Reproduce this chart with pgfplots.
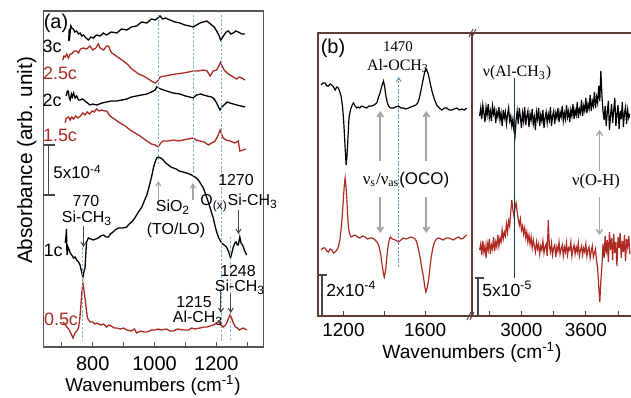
\documentclass[border=0pt]{standalone}
\usepackage{pgfplots}
\pgfplotsset{compat=1.18}
\usetikzlibrary{arrows.meta}
\usepackage{fontspec}
\setmainfont{Liberation Sans}
\newfontfamily\serif{Liberation Serif}
\definecolor{myred}{RGB}{172,42,34}
\definecolor{dashblue}{RGB}{130,175,210}
\definecolor{arrgray}{RGB}{165,165,165}
\definecolor{darkarr}{RGB}{70,70,70}
\definecolor{framea}{RGB}{85,85,85}
\definecolor{frameb}{RGB}{95,60,55}
\definecolor{tealline}{RGB}{25,55,65}
\newcommand{\fs}[1]{\fontsize{#1}{#1}\selectfont}
\begin{document}
\begin{tikzpicture}
\useasboundingbox (0,0) rectangle (315.5bp,199bp);
%================ panel (a)
\begin{axis}[
  at={(21.65bp,25.5bp)}, anchor=south west,
  scale only axis, width=110bp, height=168bp,
  xmin=640, xmax=1352, ymin=0, ymax=336,
  axis line style={draw=framea, line width=0.6bp},
  xtick={800,1000,1200}, minor xtick={700,900,1100,1300},
  xtick pos=left, ytick=\empty,
  tick align=inside, major tick length=2.5bp, minor tick length=2.5bp,
  every tick/.style={framea, line width=0.5bp},
  xticklabel style={font=\fs{10}, anchor=base, yshift=-11.5bp},
  /pgf/number format/assume math mode=true,
  /pgf/number format/1000 sep={},
  clip=false,
]
% 3c
\addplot[black, line width=0.65bp] coordinates {
(722,306) (724,318) (726,312) (729,321) (732,319) (737,318) (742,315) (748,316) (754,313) (759,314) (765,311) (770,312) (778,309) (786,307) (794,310) (802,309) (812,312) (824,311) (834,314) (845,312) (860,315) (878,314) (893,318) (910,317) (925,320) (942,321) (958,325) (975,324) (990,328) (1002,327) (1010,329) (1018,331) (1026,328) (1035,329) (1050,327) (1066,325) (1082,324) (1098,322) (1114,321) (1125,320) (1136,322) (1147,324) (1158,325) (1169,326) (1177,324) (1185,322) (1193,320) (1201,316) (1208,312) (1214,307) (1219,309) (1225,312) (1232,315) (1239,316) (1247,313) (1255,314) (1263,316) (1271,315) (1282,313) (1293,313)};
% 2.5c
\addplot[myred, line width=0.65bp] coordinates {
(703,287) (707,291) (711,290) (716,293) (721,289) (727,293) (732,293) (740,296) (748,296) (754,294) (760,298) (770,299) (780,298) (791,301) (800,297) (810,299) (818,303) (824,299) (835,297) (845,301) (851,301) (856,297) (862,294) (872,292) (880,290) (890,288) (899,286) (907,284) (915,282) (923,279) (931,277) (940,275) (948,273) (956,272) (964,271) (975,269) (985,267) (995,265) (1002,264) (1010,266) (1018,270) (1034,271) (1050,272) (1070,273) (1093,274) (1110,275) (1125,276) (1140,276) (1158,277) (1170,276) (1180,271) (1190,276) (1201,277) (1208,281) (1214,285) (1219,281) (1225,277) (1235,274) (1244,272) (1255,270) (1266,268) (1274,270) (1282,269) (1293,267)};
% 2c
\addplot[black, line width=0.65bp] coordinates {
(714,251) (718,256) (721,256) (724,249) (727,247) (731,253) (734,250) (738,254) (743,249) (748,251) (754,247) (759,247) (767,248) (775,246) (783,244) (791,242) (800,243) (813,242) (830,244) (845,245) (860,246) (878,246) (895,247) (910,248) (925,250) (942,251) (958,252) (975,253) (990,255) (1002,257) (1007,260) (1020,258) (1039,256) (1060,254) (1082,253) (1100,251) (1114,250) (1125,249) (1136,252) (1150,253) (1158,252) (1170,251) (1185,250) (1193,248) (1201,244) (1207,240) (1212,237) (1218,240) (1225,242) (1235,245) (1244,244) (1255,243) (1266,242) (1280,241) (1293,240)};
% 1.5c
\addplot[myred, line width=0.65bp] coordinates {
(711,224) (714,229) (716,229) (722,230) (727,227) (732,230) (738,228) (745,231) (752,229) (760,231) (768,234) (775,232) (782,235) (790,233) (798,236) (805,235) (812,238) (820,236) (829,237) (838,236) (845,236) (856,231) (870,228) (888,224) (905,221) (921,217) (937,214) (953,211) (975,206) (990,203) (1002,202) (1012,200) (1020,204) (1028,206) (1045,206) (1061,207) (1077,206) (1093,207) (1110,208) (1125,209) (1135,207) (1147,206) (1160,205) (1174,202) (1185,204) (1196,206) (1205,211) (1212,217) (1217,213) (1222,209) (1232,207) (1244,206) (1260,204) (1271,206) (1274,200) (1276,196) (1287,197) (1295,198)};
% 1c
\addplot[black, line width=0.65bp] coordinates {
(711,104) (714,113) (715,118) (716,100) (717,92) (720,100) (724,97) (727,94) (732,92) (738,89) (743,90) (748,87) (754,85) (759,82) (764,75) (768,70) (772,76) (775,79) (778,95) (780,105) (786,109) (794,108) (802,107) (810,108) (818,109) (826,111) (835,112) (843,110) (851,110) (857,113) (862,114) (872,117) (883,119) (897,119) (910,120) (918,123) (926,125) (934,128) (942,132) (950,136) (959,140) (967,146) (975,152) (983,161) (991,171) (997,180) (1002,185) (1007,189) (1012,190) (1020,189) (1028,187) (1036,184) (1045,182) (1053,180) (1061,179) (1070,178) (1080,176) (1092,175) (1104,174) (1112,173) (1120,172) (1131,170) (1142,167) (1150,163) (1158,159) (1166,152) (1174,145) (1182,137) (1190,129) (1196,121) (1201,115) (1208,109) (1217,104) (1225,102) (1233,100) (1240,95) (1246,89) (1250,94) (1255,100) (1260,104) (1264,105) (1268,102) (1271,102) (1276,110) (1280,104) (1285,102) (1292,96) (1298,92)};
% 0.5c
\addplot[myred, line width=0.65bp] coordinates {
(703,25) (710,23) (716,20) (722,18) (727,15) (732,12) (736,9) (740,12) (743,14) (748,16) (754,19) (758,28) (761,39) (765,55) (768,64) (771,58) (775,49) (779,38) (783,29) (787,27) (791,25) (800,25) (807,23) (813,24) (825,22) (835,23) (845,20) (852,22) (860,21) (870,19) (878,19) (890,18) (900,19) (910,17) (925,16) (935,18) (942,14) (955,16) (965,15) (975,15) (990,17) (1002,17) (1012,18) (1020,17) (1039,18) (1050,16) (1060,16) (1075,18) (1093,17) (1110,17) (1120,19) (1130,18) (1147,19) (1160,20) (1170,20) (1180,21) (1190,22) (1200,24) (1206,25) (1212,23) (1222,20) (1230,22) (1235,25) (1240,29) (1244,32) (1248,30) (1255,24) (1262,20) (1268,19) (1275,17) (1280,18) (1287,19) (1298,17)};
\end{axis}
%================ panel (b) left
\begin{axis}[
  at={(159bp,41bp)}, anchor=south west,
  scale only axis, width=77bp, height=141.5bp,
  xmin=1075, xmax=1830, ymin=0, ymax=283,
  axis line style={draw=frameb, line width=0.6bp},
  xtick={1200,1600}, minor xtick={1400},
  xtick pos=left, ytick=\empty,
  tick align=inside, major tick length=2.5bp, minor tick length=2.5bp,
  every tick/.style={frameb, line width=0.5bp},
  xticklabel style={font=\fs{9.5}, anchor=base, yshift=-10.3bp},
  /pgf/number format/assume math mode=true,
  /pgf/number format/1000 sep={},
  clip=false,
]
\addplot[black, line width=0.6bp] coordinates {
(1090,231) (1100,233) (1110,233) (1118,230) (1126,230) (1135,232) (1143,231) (1151,229) (1159,226) (1167,229) (1175,228) (1182,224) (1188,220) (1195,210) (1200,198) (1205,180) (1208,168) (1213,151) (1217,160) (1221,175) (1227,198) (1232,204) (1237,208) (1243,211) (1249,213) (1257,210) (1265,208) (1272,209) (1280,208) (1290,210) (1300,209) (1314,208) (1325,210) (1339,210) (1350,211) (1363,213) (1372,219) (1379,223) (1388,230) (1396,235) (1402,229) (1407,221) (1414,214) (1421,210) (1430,208) (1445,208) (1455,209) (1470,210) (1482,208) (1494,208) (1505,207) (1519,208) (1530,209) (1543,210) (1555,211) (1564,213) (1572,218) (1580,226) (1590,236) (1597,243) (1603,247) (1608,246) (1614,243) (1620,238) (1628,230) (1636,223) (1647,216) (1657,211) (1670,208) (1682,206) (1694,208) (1706,208) (1718,206) (1731,206) (1743,207) (1755,208) (1768,206) (1780,207) (1792,206) (1804,208)};
\addplot[myred, line width=0.6bp] coordinates {
(1090,66) (1100,68) (1110,68) (1118,65) (1126,64) (1135,67) (1143,66) (1151,63) (1159,64) (1167,66) (1175,69) (1182,76) (1188,86) (1194,100) (1200,119) (1204,131) (1208,138) (1212,130) (1216,119) (1220,102) (1224,89) (1230,82) (1237,79) (1247,80) (1257,81) (1269,79) (1281,78) (1293,80) (1306,79) (1318,77) (1330,78) (1342,78) (1355,76) (1364,74) (1372,71) (1378,66) (1383,61) (1388,53) (1393,46) (1397,41) (1400,39) (1404,43) (1408,49) (1413,60) (1418,69) (1423,75) (1429,79) (1440,77) (1454,76) (1462,75) (1470,74) (1482,76) (1494,78) (1506,77) (1519,78) (1531,79) (1543,78) (1552,77) (1559,74) (1567,67) (1576,58) (1584,48) (1592,39) (1598,30) (1604,24) (1610,28) (1617,36) (1623,47) (1630,59) (1638,68) (1646,74) (1656,77) (1666,78) (1678,77) (1690,76) (1702,78) (1715,78) (1727,77) (1740,76) (1752,78) (1764,79) (1776,77) (1789,78) (1797,80) (1804,81)};
\end{axis}
%================ panel (b) right
\begin{axis}[
  at={(236bp,41bp)}, anchor=south west,
  scale only axis, width=79.5bp, height=141.5bp,
  xmin=2539, xmax=4021, ymin=0, ymax=283,
  axis line style={draw=none},
  xtick={3000,3600}, minor xtick={2700,3300,3900},
  xtick pos=left, ytick=\empty,
  tick align=inside, major tick length=2.5bp, minor tick length=2.5bp,
  every tick/.style={frameb, line width=0.5bp},
  xticklabel style={font=\fs{9.5}, anchor=base, yshift=-10.3bp},
  /pgf/number format/assume math mode=true,
  /pgf/number format/1000 sep={},
  clip=false,
]
\addplot[black, line width=0.6bp] coordinates {
(2610,200) (2620,208) (2630,197) (2640,211) (2650,203) (2660,194) (2670,209) (2680,201) (2690,212) (2700,198) (2710,205) (2720,195) (2730,210) (2740,202) (2750,207) (2760,193) (2770,204) (2780,199) (2790,209) (2800,196) (2810,203) (2820,190) (2830,206) (2840,198) (2850,204) (2860,192) (2870,201) (2880,208) (2890,195) (2900,200) (2910,190) (2920,197) (2930,185) (2940,180) (2950,196) (2960,205) (2970,192) (2980,208) (2990,199) (3000,188) (3010,203) (3020,195) (3030,209) (3040,191) (3050,200) (3060,205) (3070,189) (3080,202) (3090,196) (3100,207) (3110,192) (3120,199) (3130,186) (3140,204) (3150,197) (3160,208) (3170,190) (3180,201) (3190,195) (3200,206) (3210,188) (3220,198) (3230,204) (3240,193) (3250,202) (3260,196) (3270,209) (3280,190) (3290,200) (3300,205) (3310,192) (3320,203) (3330,198) (3340,208) (3350,194) (3360,204) (3370,199) (3380,210) (3390,195) (3400,203) (3410,197) (3420,211) (3430,199) (3440,205) (3450,194) (3460,206) (3470,200) (3480,212) (3490,197) (3500,206) (3510,201) (3520,214) (3530,198) (3540,207) (3550,203) (3560,216) (3570,200) (3580,210) (3590,205) (3600,218) (3610,203) (3620,212) (3630,207) (3640,221) (3650,205) (3660,215) (3670,210) (3680,224) (3690,208) (3700,219) (3710,213) (3720,230) (3730,215) (3740,245) (3750,220) (3760,205) (3770,196) (3780,210) (3790,190) (3800,204) (3810,215) (3820,186) (3830,200) (3840,212) (3850,193) (3860,206) (3870,218) (3880,190) (3890,202) (3900,211) (3910,187) (3920,205) (3930,197) (3940,214) (3950,189) (3960,203) (3970,209) (3980,192) (3990,206) (4000,198) (4010,202)};
\addplot[myred, line width=0.6bp] coordinates {
(2610,66) (2620,72) (2630,61) (2640,75) (2650,64) (2660,70) (2670,58) (2680,73) (2690,66) (2700,77) (2710,62) (2720,71) (2730,67) (2740,79) (2750,65) (2760,74) (2770,69) (2780,81) (2790,70) (2800,78) (2810,74) (2820,86) (2830,77) (2840,84) (2850,80) (2860,92) (2870,84) (2880,95) (2890,90) (2900,104) (2910,116) (2920,106) (2930,100) (2940,108) (2950,113) (2960,104) (2970,97) (2980,91) (2990,97) (3000,86) (3010,90) (3020,82) (3030,88) (3040,78) (3050,84) (3060,74) (3070,81) (3080,72) (3090,79) (3100,68) (3110,76) (3120,70) (3130,64) (3140,74) (3150,67) (3160,72) (3170,62) (3180,70) (3190,66) (3200,75) (3210,63) (3220,69) (3230,72) (3240,60) (3250,96) (3260,70) (3270,64) (3280,73) (3290,61) (3300,68) (3310,71) (3320,59) (3330,69) (3340,65) (3350,74) (3360,62) (3370,67) (3380,71) (3390,60) (3400,69) (3410,64) (3420,73) (3430,61) (3440,68) (3450,66) (3460,74) (3470,60) (3480,67) (3490,71) (3500,62) (3510,69) (3520,64) (3530,73) (3540,60) (3550,66) (3560,70) (3570,61) (3580,68) (3590,64) (3600,72) (3610,60) (3620,66) (3630,69) (3640,58) (3650,65) (3660,70) (3670,59) (3680,63) (3690,67) (3700,55) (3710,48) (3720,30) (3730,14) (3740,35) (3750,50) (3760,72) (3770,58) (3780,80) (3790,62) (3800,76) (3810,54) (3820,84) (3830,66) (3840,78) (3850,56) (3860,82) (3870,63) (3880,74) (3890,50) (3900,79) (3910,68) (3920,83) (3930,58) (3940,75) (3950,64) (3960,81) (3970,55) (3980,77) (3990,69) (4000,80) (4010,62)};
\end{axis}
%================ annotations in pixel coordinates
\begin{scope}[shift={(0,199bp)}, x=0.5bp, y=-0.5bp]
% --- panel (a)
\draw[dashblue, line width=0.45bp, dash pattern=on 1.2bp off 0.9bp] (82,243)--(82,340);
\draw[dashblue, line width=0.45bp, dash pattern=on 1.2bp off 0.9bp] (158.3,15)--(158.3,165);
\draw[dashblue, line width=0.45bp, dash pattern=on 1.2bp off 0.9bp] (193.3,15)--(193.3,176);
\draw[dashblue, line width=0.45bp, dash pattern=on 1.2bp off 0.9bp] (221,15)--(221,342);
\draw[dashblue, line width=0.45bp, dash pattern=on 1.2bp off 0.9bp] (230.7,237)--(230.7,342);
\node[font=\fs{10}] at (56,23.5) {(a)};
\node[font=\fs{9}] at (52,46) {3c};
\node[font=\fs{9}, text=myred] at (60,73) {2.5c};
\node[font=\fs{9}] at (52,100) {2c};
\node[font=\fs{9}, text=myred] at (60,135) {1.5c};
\node[font=\fs{9}] at (53,250) {1c};
\node[font=\fs{9}, text=myred] at (61,319) {0.5c};
\draw[darkarr, line width=0.6bp] (48.3,145)--(48.3,195) (43,145)--(55,145) (43,195)--(55,195);
\node[font=\fs{8.5}, anchor=west, inner sep=0pt] at (53,172) {5x10\textsuperscript{-4}};
\node[font=\fs{8}] at (86,201) {770};
\node[font=\fs{8}] at (87,218) {Si-CH\textsubscript{3}};
\draw[darkarr, line width=0.5bp, -{Straight Barb[length=2bp,width=2.5bp]}] (83.5,226)--(83.5,247);
\node[font=\fs{8}] at (173,207) {SiO\textsubscript{2}};
\node[font=\fs{8}] at (176,230) {(TO/LO)};
\draw[arrgray, line width=0.6bp, -{Straight Barb[length=2bp,width=2.5bp]}] (158.3,200)--(158.3,181);
\draw[arrgray, line width=0.6bp, -{Straight Barb[length=2bp,width=2.5bp]}] (193,200)--(193,183);
\node[font=\fs{8}] at (236,180) {1270};
\node[font=\fs{8}, anchor=west, inner sep=0pt] at (200,203) {O\textsubscript{(x)}Si-CH\textsubscript{3}};
\draw[darkarr, line width=0.5bp, -{Straight Barb[length=2bp,width=2.5bp]}] (238.5,210)--(238.5,234);
\node[font=\fs{8}] at (238,271) {1248};
\node[font=\fs{8}] at (240,287) {Si-CH\textsubscript{3}};
\draw[darkarr, line width=0.5bp, -{Straight Barb[length=2bp,width=2.5bp]}] (230.7,294)--(230.7,313);
\node[font=\fs{8}] at (194,302) {1215};
\node[font=\fs{8}] at (198,318) {Al-CH\textsubscript{3}};
\draw[darkarr, line width=0.5bp, -{Straight Barb[length=2bp,width=2.5bp]}] (221,289)--(221,313);
\node[font=\fs{9.4}, anchor=base] at (153,392) {Wavenumbers (cm\textsuperscript{-1})};
\node[font=\fs{10.4}, anchor=base, rotate=90] at (32,160.5) {Absorbance (arb. unit)};
% --- panel (b)
\draw[frameb, line width=0.6bp] (472,33)--(631,33) (472,316)--(631,316);
\draw[frameb, line width=0.5bp] (469,37)--(473,29) (472,37)--(476,29);
\draw[frameb, line width=0.5bp] (467,320)--(471,312) (470,320)--(474,312);
\node[font=\fs{10}] at (333,48) {(b)};
\node[font=\serif\fs{7.5}] at (398,47) {1470};
\node[font=\serif\fs{8}] at (398,66) {Al-OCH\textsubscript{3}};
\draw[dashblue!80!black, line width=0.45bp, dash pattern=on 1bp off 0.8bp, -{Straight Barb[length=2bp,width=2.5bp]}] (398.7,267)--(398.7,77);
\draw[arrgray, line width=0.9bp, -{Straight Barb[length=2.2bp,width=3bp]}] (380.3,161)--(380.3,111);
\draw[arrgray, line width=0.9bp, -{Straight Barb[length=2.2bp,width=3bp]}] (426.3,161)--(426.3,111);
\draw[arrgray, line width=0.9bp, -{Straight Barb[length=2.2bp,width=3bp]}] (380.3,197)--(380.3,233);
\draw[arrgray, line width=0.9bp, -{Straight Barb[length=2.2bp,width=3bp]}] (426.3,197)--(426.3,233);
\node[font=\fs{8.5}] at (406,180) {{\serif ν\textsubscript{s}/ν\textsubscript{as}}(OCO)};
\draw[darkarr, line width=0.6bp] (322,275)--(322,315) (319,275)--(327,275);
\node[font=\fs{8.8}, anchor=west, inner sep=0pt] at (326,289) {2x10\textsuperscript{-4}};
\node[font=\serif\fs{8}] at (517,73) {ν(Al-CH\textsubscript{3})};
\draw[tealline, line width=0.5bp] (514.7,78)--(514.7,278);
\node[font=\serif\fs{8.3}] at (596,182) {ν(O-H)};
\draw[arrgray, line width=0.7bp, -{Straight Barb[length=2.2bp,width=3bp]}] (599.5,171)--(599.5,130);
\draw[arrgray, line width=0.7bp, -{Straight Barb[length=2.2bp,width=3bp]}] (599.5,197)--(599.5,235);
\draw[darkarr, line width=0.6bp] (478,278)--(478,315.7) (475,278)--(484,278);
\node[font=\fs{8.8}, anchor=west, inner sep=0pt] at (482,289) {5x10\textsuperscript{-5}};
\node[font=\fs{9.6}, anchor=base] at (472,359) {Wavenumbers (cm\textsuperscript{-1})};
\end{scope}
\end{tikzpicture}
\end{document}
